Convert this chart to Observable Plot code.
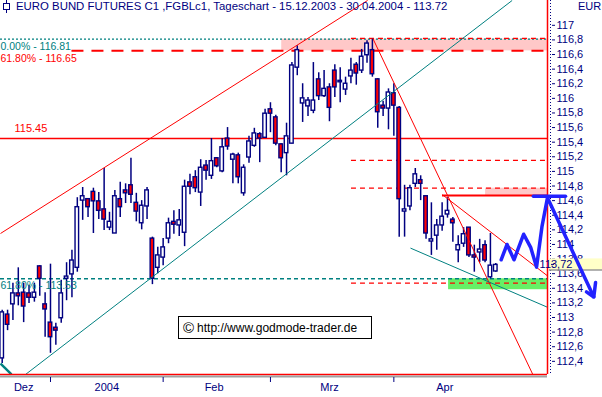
<!DOCTYPE html>
<html><head><meta charset="utf-8">
<script src="https://cdn.jsdelivr.net/npm/d3@7"></script>
<script src="https://cdn.jsdelivr.net/npm/@observablehq/plot@0.6"></script>
<style>
html,body{margin:0;padding:0;background:#fff;}
#wrap{position:relative;width:602px;height:397px;overflow:hidden;font-family:"Liberation Sans",Arial,sans-serif;}
#chart{position:absolute;left:0;top:0;}
#title{position:absolute;left:2px;top:0px;font-size:11.4px;color:#000080;white-space:nowrap;line-height:13px;}
#title svg{vertical-align:top;margin-right:5px;}
#cur{position:absolute;left:578px;top:0px;font-size:11px;color:#000080;line-height:13px;}
#copy{position:absolute;left:178px;top:316px;width:192px;height:21px;border:1px solid #000;background:#fff;font-size:12px;line-height:21px;color:#000;white-space:nowrap;}
#copy span{font-size:15px;margin-left:4px;margin-right:3px;vertical-align:-1px;}
</style></head><body>
<div id="wrap">
<div id="chart"></div>
<div id="title"><svg width="9" height="13"><line x1="4.5" y1="0" x2="4.5" y2="13" stroke="#000080"/><rect x="1.5" y="3.5" width="6" height="6" fill="#fff" stroke="#000080"/></svg>EURO BUND FUTURES C1 ,FGBLc1, Tageschart - 15.12.2003 - 30.04.2004 - 113.72</div>
<div id="cur">EUR</div>
<div id="copy"><span>©</span>http://www.godmode-trader.de</div>
</div>
<script>
// Daily candles 15.12.2003 - 30.04.2004 (trading-day index 0..92)
const opens = [112.44,113.04,113.18,113.33,113.34,113.33,113.27,113.70,113.18,112.93,
112.86,112.99,113.53,113.59,113.68,114.60,114.62,114.72,114.59,114.48,
114.23,114.15,114.62,114.74,114.81,114.57,114.29,114.52,114.08,113.68,
113.82,114.08,114.31,114.26,114.16,114.85,114.92,114.71,115.08,114.94,
115.18,115.00,115.45,115.16,115.22,114.70,115.19,115.35,115.51,115.46,
115.85,115.74,115.37,115.25,115.38,116.42,115.93,115.89,115.83,116.26,
116.03,116.15,116.38,116.22,116.12,116.30,116.46,116.38,116.59,116.66,
116.26,115.90,115.86,116.07,115.87,114.45,114.52,114.83,114.88,114.66,
114.04,114.12,114.26,114.41,114.34,113.92,114.01,114.23,113.85,113.89,
113.99,113.55,113.63];
const highs = [113.10,113.10,113.47,113.68,113.47,113.44,113.47,113.71,113.34,113.73,
112.92,113.51,113.75,113.92,114.64,114.78,114.62,114.77,114.71,115.04,
114.44,114.74,114.85,114.83,115.18,114.70,114.60,114.78,114.10,113.96,
114.08,114.36,114.46,114.48,114.88,114.96,115.01,115.16,115.15,115.45,
115.19,115.45,115.60,115.25,115.25,115.09,115.48,115.59,115.53,115.85,
115.94,115.77,115.38,115.66,116.49,116.72,116.20,116.01,116.49,116.35,
116.38,116.20,116.46,116.42,116.29,116.55,116.49,116.67,116.79,116.81,
116.27,115.96,116.13,116.20,115.89,114.81,114.81,115.04,114.94,114.66,
114.57,114.34,114.57,114.64,114.37,114.12,114.23,114.23,113.99,114.07,
114.05,114.15,113.74];
const lows = [112.37,112.82,112.96,113.16,112.93,113.19,113.21,113.29,112.73,112.51,
112.62,112.92,113.23,113.27,113.62,114.33,114.37,114.15,114.34,114.19,
114.19,114.15,114.37,114.56,114.56,114.31,114.20,114.34,113.45,113.60,
113.71,114.01,114.14,114.11,113.97,114.68,114.71,114.52,114.88,114.89,
115.05,114.98,115.29,114.83,114.83,114.66,115.11,115.33,115.12,115.46,
115.53,115.35,114.98,114.94,115.38,116.31,115.67,115.75,115.79,115.97,
116.01,115.68,116.01,115.94,116.04,116.20,116.18,116.34,116.48,116.29,
115.59,115.75,115.57,115.48,114.10,114.10,114.46,114.78,114.60,114.07,
113.85,113.92,114.18,114.36,114.03,113.75,113.96,113.82,113.62,113.75,
113.75,113.53,113.62];
const closes = [113.07,112.90,113.33,113.29,113.15,113.27,113.34,113.53,113.11,112.73,
112.82,113.33,113.56,113.78,114.51,114.66,114.51,114.59,114.46,114.34,
114.31,114.66,114.51,114.70,114.68,114.45,114.53,114.74,113.53,113.85,
113.96,114.29,114.27,114.33,114.79,114.79,114.77,115.05,115.01,115.14,
115.07,115.33,115.34,115.23,114.92,115.05,115.41,115.52,115.45,115.79,
115.79,115.38,115.18,115.48,116.45,116.66,116.00,115.97,115.97,116.03,
116.13,115.87,116.15,116.24,116.20,116.38,116.34,116.57,116.75,116.33,
115.81,115.86,116.08,115.90,114.62,114.48,114.77,114.96,114.83,114.15,
114.07,114.26,114.38,114.46,114.29,113.99,114.14,113.85,113.82,113.93,
113.78,113.71,113.72];
const lastPrice = 113.72;

// Axis ticks
const monthStarts = [9, 30, 50, 73];
const monthCenters = [4, 19.5, 39.5, 61, 82.5];
const monthLabels = ["Dez", "2004", "Feb", "Mrz", "Apr"];
const yTicks = [112.4,112.6,112.8,113,113.2,113.4,113.6,113.8,114,114.2,114.4,114.6,
                114.8,115,115.2,115.4,115.6,115.8,116,116.2,116.4,116.6,116.8,117];

// Annotation levels
const fibTop = [116.81];      const fibTopLabel = ["0.00% - 116.81"];
const fibUpper = [116.65];    const fibUpperLabel = ["61.80% - 116.65"]; const fibUpperStart = 13;
const resistance = [115.45];  const resistanceLabel = ["115.45"];
const fibLow = [113.53];      const fibLowLabel = ["61.80% - 113.53"];
const markerLevels = [116.82, 115.15, 114.77, 113.47]; const markerStart = 65.1;
const pinkZones = [[52.1, 116.65, 116.81], [90.1, 114.67, 114.77]];
const greenZones = [[83.2, 113.38, 113.53]];
const targetLevel = [[82.07, 114.67]];
const redTrends = [[-0.317, 114.15, 68.1, 117.34], [69.15, 116.81, 98.9, 112.22], [82.07, 114.68, 101.64, 113.57]];
const tealTrends = [[4.35, 112.22, 95.05, 117.34], [76.1, 113.95, 101.64, 113.14]];
const tealOld = [[-0.317, 112.37, 1.73, 112.22]];
const forecastPath = [[93.0,113.79],[94.1,114.00],[95.4,113.79],[97.2,114.14],[98.5,113.96],
                      [99.6,113.69],[100.6,114.24],[101.64,114.64],[110.27,113.28]];
const forecastBar = [[99.0,114.66],[105.0,114.66]];
const arrowHead = [[108.9,113.35],[110.27,113.28],[110.6,113.48]];

const xMin = -0.317, xMax = 101.64;
const yMin = 112.2197, yMax = 117.3395;

const candles = opens.map((o, i) => ({i, o, h: highs[i], l: lows[i], c: closes[i]}));
const fmt = d => String(d).replace(".", ",");
const labelMap = new Map(monthCenters.map((m, k) => [m, monthLabels[k]]));
const navy = "#000080", teal = "#008080", red = "#ff0000", blue = "#2222ff";

const priceTag = (index, scales, values, dims) => {
  const yc = scales.y(lastPrice);
  const x0 = dims.width - dims.marginRight + 2;
  const g = d3.create("svg:g");
  g.append("rect").attr("x", x0).attr("y", yc - 6).attr("width", dims.width - x0).attr("height", 11.6).attr("fill", "#ffffc8");
  g.append("line").attr("x1", x0).attr("x2", dims.width).attr("y1", yc + 5.6).attr("y2", yc + 5.6).attr("stroke", "#999").attr("stroke-width", 1.5);
  g.append("line").attr("x1", x0 + 2).attr("x2", x0 + 5).attr("y1", yc).attr("y2", yc).attr("stroke", navy);
  g.append("text").attr("x", x0 + 7).attr("y", yc).attr("dy", "0.35em").attr("fill", navy)
    .attr("font-size", 11).text(fmt(lastPrice));
  return g.node();
};

const chart = Plot.plot({
  width: 602, height: 397,
  marginLeft: 0, marginRight: 55, marginTop: 0, marginBottom: 23,
  x: {domain: [xMin, xMax], label: null},
  y: {domain: [yMin, yMax], label: null},
  style: {fontFamily: "Liberation Sans, Arial, sans-serif", fontSize: "11px", color: navy, background: "white", overflow: "visible"},
  marks: [
    Plot.rect(pinkZones, {x1: d => d[0], x2: () => xMax, y1: d => d[1], y2: d => d[2], fill: "#ffc8c8"}),
    Plot.rect(greenZones, {x1: d => d[0], x2: () => xMax, y1: d => d[1], y2: d => d[2], fill: "#66f066"}),
    Plot.ruleY(fibTop, {stroke: teal, strokeWidth: 1.2, strokeDasharray: "2,2"}),
    Plot.ruleY(fibUpper, {x1: () => fibUpperStart, x2: () => xMax, stroke: red, strokeWidth: 2, strokeDasharray: "12,8"}),
    Plot.ruleY(resistance, {stroke: red, strokeWidth: 1.5}),
    Plot.ruleY(fibLow, {stroke: teal, strokeWidth: 1.5, strokeDasharray: "4,3"}),
    Plot.ruleY(markerLevels, {x1: () => markerStart, x2: () => xMax, stroke: red, strokeWidth: 1.2, strokeDasharray: "5,4"}),
    Plot.ruleY(targetLevel, {y: d => d[1], x1: d => d[0], x2: () => xMax, stroke: red, strokeWidth: 2}),
    Plot.ruleX(candles, {x: "i", y1: "l", y2: "h", stroke: navy, strokeWidth: 1.5}),
    Plot.rect(candles, {x1: d => d.i - 0.33, x2: d => d.i + 0.33, y1: "o", y2: "c",
      fill: d => d.c < d.o ? red : "#ffffff", stroke: navy, strokeWidth: 1.4}),
    Plot.link(redTrends, {x1: d => d[0], y1: d => d[1], x2: d => d[2], y2: d => d[3], stroke: red, strokeWidth: 1}),
    Plot.link(tealTrends, {x1: d => d[0], y1: d => d[1], x2: d => d[2], y2: d => d[3], stroke: teal, strokeWidth: 1}),
    Plot.link(tealOld, {x1: d => d[0], y1: d => d[1], x2: d => d[2], y2: d => d[3], stroke: teal, strokeWidth: 2.5}),
    Plot.text(fibTopLabel, {x: () => xMin, y: () => fibTop[0], text: d => d, dy: 7, textAnchor: "start", fill: teal, fontSize: 10.5}),
    Plot.text(fibUpperLabel, {x: () => xMin, y: () => fibUpper[0], text: d => d, dy: 8, textAnchor: "start", fill: red, fontSize: 10.5}),
    Plot.text(resistanceLabel, {x: () => xMin, y: () => resistance[0], text: d => d, dx: 14, dy: -10, textAnchor: "start", fill: red, fontSize: 11}),
    Plot.text(fibLowLabel, {x: () => xMin, y: () => fibLow[0], text: d => d, dy: 7, textAnchor: "start", fill: teal, fontSize: 10.5}),
    Plot.ruleX([xMax], {stroke: red, strokeWidth: 1.5}),
    Plot.ruleX([xMax], {dx: 3, stroke: navy, strokeDasharray: "1,2"}),
    Plot.ruleY([yMin], {stroke: red, strokeWidth: 1.5}),
    Plot.ruleY([yMin], {dy: 2, stroke: "#a0a0a0", strokeWidth: 2}),
    Plot.axisY({anchor: "right", ticks: yTicks, tickFormat: fmt, tickSize: 3, tickPadding: 2, dx: 4, fontSize: 11, label: null}),
    Plot.axisX({anchor: "bottom", ticks: monthStarts, tickFormat: () => "", tickSize: 5, dy: 3, label: null}),
    Plot.axisX({anchor: "bottom", ticks: monthCenters, tickFormat: d => labelMap.get(d), tickSize: 0, tickPadding: 9, fontSize: 11, label: null}),
    priceTag,
    Plot.line(forecastPath, {x: d => d[0], y: d => d[1], stroke: blue, strokeWidth: 3.5, strokeLinejoin: "round"}),
    Plot.line(forecastBar, {x: d => d[0], y: d => d[1], stroke: blue, strokeWidth: 3.5}),
    Plot.line(arrowHead, {x: d => d[0], y: d => d[1], stroke: blue, strokeWidth: 3.5, strokeLinejoin: "miter"})
  ]
});
document.getElementById("chart").appendChild(chart);
</script>
</body></html>
